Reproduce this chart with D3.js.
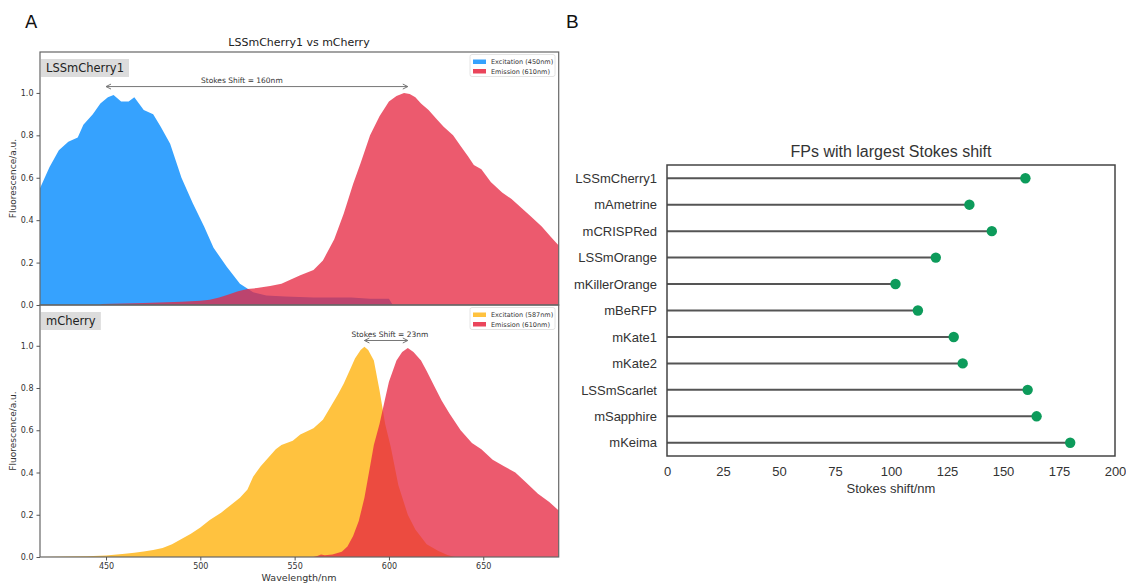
<!DOCTYPE html>
<html><head><meta charset="utf-8">
<script src="https://cdn.jsdelivr.net/npm/d3@7"></script>
<style>body{margin:0;background:#fff}svg{display:block}</style>
</head><body><svg id="c" width="1126" height="585"></svg>
<script>
// ---- Data ----
const lssEx = [[415,0.55],[420,0.65],[425,0.73],[430,0.77],[435,0.79],[438,0.85],[443,0.90],[447,0.95],[451,0.98],[454,0.99],[458,0.96],[462,0.96],[465,0.98],[470,0.92],[475,0.90],[479,0.84],[484,0.76],[487,0.68],[490,0.60],[496,0.48],[502,0.37],[507,0.27],[514,0.18],[521,0.10],[528,0.06],[535,0.045],[545,0.04],[560,0.035],[580,0.035],[590,0.03],[600,0.03],[602,0.0]];
const lssEm = [[447,0],[448,0.005],[470,0.01],[490,0.015],[500,0.02],[505,0.025],[510,0.035],[515,0.05],[520,0.065],[525,0.075],[530,0.08],[537,0.09],[543,0.10],[548,0.12],[553,0.14],[560,0.165],[565,0.21],[571,0.31],[576,0.43],[581,0.57],[585,0.67],[590,0.80],[595,0.89],[600,0.96],[604,0.985],[608,1.0],[611,0.995],[614,0.98],[617,0.95],[621,0.92],[625,0.88],[629,0.84],[634,0.80],[638,0.75],[642,0.70],[645,0.66],[649,0.64],[654,0.58],[660,0.53],[665,0.50],[670,0.46],[675,0.42],[681,0.37],[686,0.32],[690,0.28]];
const mchEx = [[415,0],[430,0.002],[440,0.004],[450,0.007],[460,0.015],[465,0.02],[470,0.026],[475,0.033],[480,0.043],[485,0.06],[490,0.085],[495,0.11],[500,0.14],[505,0.175],[511,0.21],[516,0.245],[521,0.28],[525,0.32],[528,0.38],[532,0.43],[536,0.47],[540,0.51],[543,0.53],[549,0.55],[553,0.58],[560,0.61],[565,0.65],[569,0.71],[573,0.77],[576,0.82],[580,0.90],[582,0.94],[585,0.98],[587,0.995],[589,0.98],[592,0.93],[595,0.79],[598,0.63],[601,0.52],[605,0.34],[610,0.20],[614,0.13],[620,0.06],[626,0.03],[631,0.01],[635,0.0],[690,0]];
const mchEm = [[560,0],[562,0.005],[564,0.012],[566,0.008],[570,0.012],[575,0.025],[578,0.05],[581,0.10],[584,0.17],[587,0.28],[590,0.43],[592,0.53],[595,0.63],[598,0.75],[600,0.83],[604,0.93],[607,0.97],[610,0.99],[613,0.97],[617,0.93],[620,0.88],[624,0.81],[628,0.74],[632,0.68],[638,0.60],[644,0.54],[649,0.51],[655,0.46],[661,0.43],[667,0.40],[673,0.35],[679,0.30],[685,0.26],[690,0.22]];
const wlTicks = [450,500,550,600,650];
const fluTicks = [0,0.2,0.4,0.6,0.8,1.0];
const legendTop = ["Excitation (450nm)","Emission (610nm)"];
const legendBottom = ["Excitation (587nm)","Emission (610nm)"];
const stokesTop = [450,610];
const stokesBottom = [587,610];

const fpNames = ["LSSmCherry1","mAmetrine","mCRISPRed","LSSmOrange","mKillerOrange","mBeRFP","mKate1","mKate2","LSSmScarlet","mSapphire","mKeima"];
const fpShift = [160,135,145,120,102,112,128,132,161,165,180];
const shiftTicks = [0,25,50,75,100,125,150,175,200];

// ---- Drawing ----
const svg = d3.select("#c");
const LF = "DejaVu Sans", RF = "Liberation Sans, Arial, sans-serif";
const cBlue = "#36a2fe", cRed = "rgb(230,38,64)", cYel = "#ffc23f", redOp = 0.76;

svg.append("defs").append("marker").attr("id","arr").attr("viewBox","-7 -4 8 8")
  .attr("refX",0).attr("refY",0).attr("markerWidth",8).attr("markerHeight",8)
  .attr("markerUnits","userSpaceOnUse").attr("orient","auto-start-reverse")
  .append("path").attr("d","M-5,-2.5 L0,0 L-5,2.5").attr("fill","none").attr("stroke","#777").attr("stroke-width",1);

svg.append("text").attr("x",25).attr("y",28).attr("font-family",LF).attr("font-size",18).attr("fill","#111").text("A");
svg.append("text").attr("x",566).attr("y",28).attr("font-family",RF).attr("font-size",19).attr("fill","#111").text("B");

const x = d3.scaleLinear().domain([415,690]).range([40,558.7]);
const panels = [
  {y0:305, y1:52, ex:lssEx, em:lssEm, exC:cBlue, leg:legendTop, name:"LSSmCherry1", st:stokesTop, stText:"Stokes Shift = 160nm", stX:522},
  {y0:557, y1:305, ex:mchEx, em:mchEm, exC:cYel, leg:legendBottom, name:"mCherry", st:stokesBottom, stText:"Stokes Shift = 23nm", stX:600.5}
];
svg.append("text").attr("x",299).attr("y",46).attr("text-anchor","middle").attr("font-family",LF).attr("font-size",11).attr("fill","#222").text("LSSmCherry1 vs mCherry");

panels.forEach((p,i)=>{
  const y = d3.scaleLinear().domain([0,1.193]).range([p.y0,p.y1]);
  const g = svg.append("g");
  const area = d3.area().x(d=>x(d[0])).y0(y(0)).y1(d=>y(d[1]));
  g.append("path").datum(p.ex).attr("d",area).attr("fill",p.exC);
  g.append("path").datum(p.em).attr("d",area).attr("fill",cRed).attr("fill-opacity",redOp);
  g.append("rect").attr("x",x.range()[0]).attr("y",p.y1).attr("width",x.range()[1]-x.range()[0]).attr("height",p.y0-p.y1)
    .attr("fill","none").attr("stroke","#666").attr("stroke-width",1.2);
  const ya = g.append("g").attr("transform",`translate(${x.range()[0]},0)`)
    .call(d3.axisLeft(y).tickValues(fluTicks).tickFormat(d3.format(".1f")).tickSize(3.5).tickPadding(3));
  ya.select(".domain").remove();
  ya.selectAll("line").attr("stroke","#555");
  ya.selectAll("text").attr("font-family",LF).attr("font-size",8).attr("fill","#333");
  svg.append("text").attr("transform",`translate(16,${(p.y0+p.y1)/2}) rotate(-90)`).attr("text-anchor","middle")
    .attr("font-family",LF).attr("font-size",9).attr("fill","#333").text("Fluorescence/a.u.");
  const nb = g.append("g");
  const nt = nb.append("text").attr("x",x.range()[0]+6).attr("y",p.y1+20).attr("font-family",LF).attr("font-size",11.5).attr("fill","#222").text(p.name);
  const bb = nt.node().getBBox();
  nb.insert("rect","text").attr("x",x.range()[0]+1).attr("y",p.y1+7).attr("width",bb.width+10).attr("height",18).attr("fill","#dcdcdc");
  const lx = 470, ly = p.y1+2.5;
  g.append("rect").attr("x",lx).attr("y",ly).attr("width",85).attr("height",22).attr("fill","#fff").attr("stroke","#ddd").attr("stroke-width",0.8).attr("rx",2);
  [p.exC, cRed].forEach((c,j)=>{
    g.append("rect").attr("x",lx+3).attr("y",ly+5+j*9.5).attr("width",13).attr("height",4.5).attr("fill",c).attr("fill-opacity",j?redOp+0.1:1);
    g.append("text").attr("x",lx+21).attr("y",ly+9.5+j*9.5).attr("font-family",LF).attr("font-size",6.5).attr("fill","#333").text(p.leg[j]);
  });
  const ay = y(i===0?1.03:1.025);
  g.append("line").attr("x1",x(p.st[0])).attr("x2",x(p.st[1])).attr("y1",ay).attr("y2",ay)
    .attr("stroke","#777").attr("stroke-width",1).attr("marker-start","url(#arr)").attr("marker-end","url(#arr)");
  g.append("text").attr("x",x(p.stX)).attr("y",ay-3.5).attr("text-anchor","middle").attr("font-family",LF).attr("font-size",7.5).attr("fill","#333").text(p.stText);
  if(i===1){
    const xa = g.append("g").attr("transform",`translate(0,${p.y0})`).call(d3.axisBottom(x).tickValues(wlTicks).tickSize(3.5).tickPadding(3));
    xa.select(".domain").remove();
    xa.selectAll("line").attr("stroke","#555");
    xa.selectAll("text").attr("font-family",LF).attr("font-size",8).attr("fill","#333");
    svg.append("text").attr("x",299).attr("y",581).attr("text-anchor","middle").attr("font-family",LF).attr("font-size",9.5).attr("fill","#333").text("Wavelength/nm");
  }
});

// ---- Right panel ----
const xr = d3.scaleLinear().domain([0,200]).range([667,1115]);
const yr = d3.scalePoint().domain(fpNames).range([165,456]).padding(0.5);
const rg = svg.append("g");
fpNames.forEach((n,i)=>{
  rg.append("line").attr("x1",xr(0)).attr("x2",xr(fpShift[i])).attr("y1",yr(n)).attr("y2",yr(n)).attr("stroke","#555").attr("stroke-width",2);
});
fpNames.forEach((n,i)=>{
  rg.append("circle").attr("cx",xr(fpShift[i])).attr("cy",yr(n)).attr("r",5.2).attr("fill","#0d9b5b");
});
rg.append("rect").attr("x",667).attr("y",165).attr("width",448).attr("height",291).attr("fill","none").attr("stroke","#444").attr("stroke-width",1.5);
const yra = rg.append("g").attr("transform","translate(667,0)").call(d3.axisLeft(yr).tickSize(0).tickPadding(10));
yra.select(".domain").remove();
yra.selectAll("text").attr("font-family",RF).attr("font-size",13).attr("fill","#333");
const xra = rg.append("g").attr("transform","translate(0,456)").call(d3.axisBottom(xr).tickValues(shiftTicks).tickSize(0).tickPadding(11));
xra.select(".domain").remove();
xra.selectAll("text").attr("font-family",RF).attr("font-size",13).attr("fill","#333");
svg.append("text").attr("x",891).attr("y",493).attr("text-anchor","middle").attr("font-family",RF).attr("font-size",13).attr("fill","#333").text("Stokes shift/nm");
svg.append("text").attr("x",891).attr("y",157).attr("text-anchor","middle").attr("font-family",RF).attr("font-size",16).attr("fill","#333").text("FPs with largest Stokes shift");
</script></body></html>
